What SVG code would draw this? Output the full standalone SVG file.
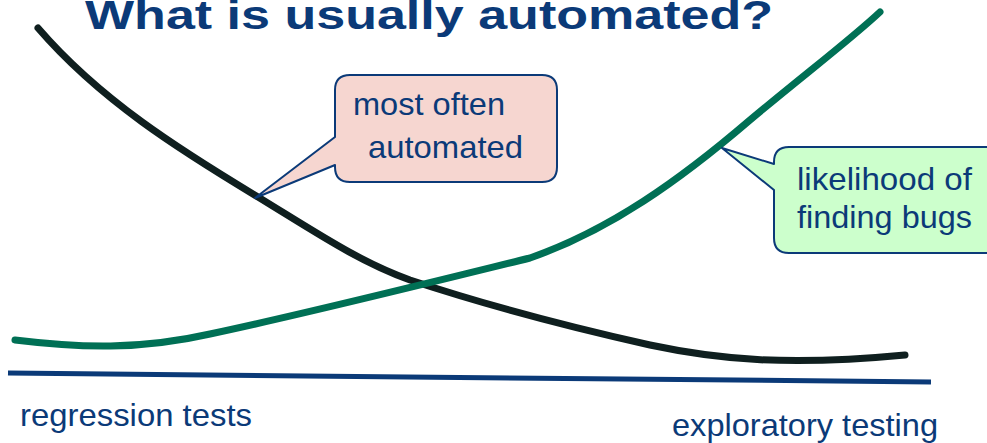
<svg xmlns="http://www.w3.org/2000/svg" width="987" height="443" viewBox="0 0 987 443">
<style>
.t{font-family:"Liberation Sans",Arial,sans-serif;fill:#0b3a78}
.c{stroke:#0b3a78;stroke-width:2;stroke-linejoin:round}
</style>
<rect width="987" height="443" fill="#fff"/>
<text class="t" x="85" y="29" font-size="40" font-weight="bold" textLength="688" lengthAdjust="spacingAndGlyphs">What is usually automated?</text>
<g id="axis"><line x1="8" y1="373" x2="931" y2="382" stroke="#0b3a78" stroke-width="5"/></g>
<g id="connectors">
<path id="automation-curve" d="M38,28 C100,100 180,150 258,197 C320,235 360,262 410,280 C480,303 560,325 650,345 C720,360 790,366 905,355" fill="none" stroke="#0f1f1f" stroke-width="7" stroke-linecap="round"/>
<path id="bugs-curve" d="M15,340 C80,348 140,350 210,334 C300,315 400,290 530,258 C610,230 680,180 750,120 C810,70 850,40 880,12" fill="none" stroke="#007055" stroke-width="7" stroke-linecap="round"/>
</g>
<g id="callout-automated">
<path class="c" d="M350,75 H542 Q557,75 557,90 V167 Q557,182 542,182 H350 Q335,182 335,167 V165 L255,198 L335,137 V90 Q335,75 350,75 Z" fill="#f6d6d0"/>
<text class="t" x="353" y="115" font-size="32" textLength="152" lengthAdjust="spacingAndGlyphs">most often</text>
<text class="t" x="368" y="158" font-size="32" textLength="155" lengthAdjust="spacingAndGlyphs">automated</text>
</g>
<g id="callout-bugs">
<path class="c" d="M789,147 H1000 V253 H789 Q774,253 774,238 V190 L722,148 L774,164 V162 Q774,147 789,147 Z" fill="#ccffcc"/>
<text class="t" x="797" y="190" font-size="32" textLength="175" lengthAdjust="spacingAndGlyphs">likelihood of</text>
<text class="t" x="797" y="228" font-size="32" textLength="175" lengthAdjust="spacingAndGlyphs">finding bugs</text>
</g>
<text class="t" x="20" y="426" font-size="32" textLength="232" lengthAdjust="spacingAndGlyphs">regression tests</text>
<text class="t" x="672" y="436" font-size="32" textLength="266" lengthAdjust="spacingAndGlyphs">exploratory testing</text>
</svg>
